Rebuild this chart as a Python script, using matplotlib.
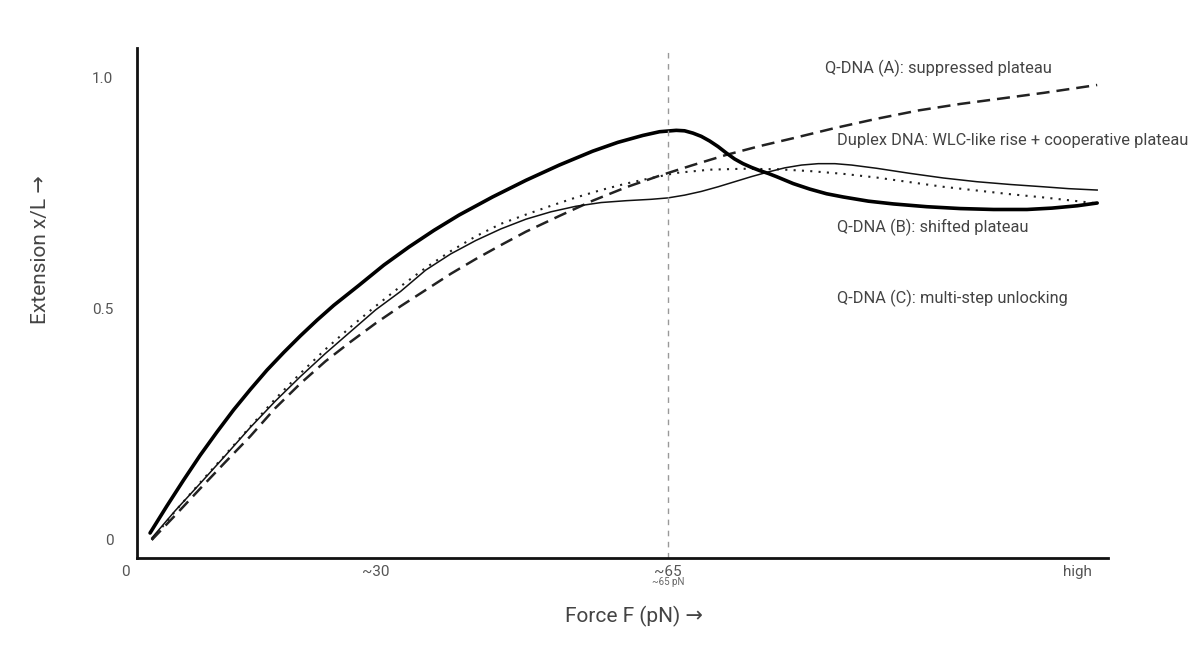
import matplotlib
matplotlib.use("Agg")
import matplotlib.pyplot as plt

plt.rcParams['font.family'] = ['Roboto', 'DejaVu Sans']

# Force axis (pN, arbitrary scale) and extension x/L
# thick solid : duplex DNA
F_duplex = [3, 5, 7, 9, 11, 13, 15, 17, 19, 21, 23, 25, 28, 31, 34, 37, 40, 44, 48, 52,
            56, 59, 62, 64, 66, 67, 68, 69, 70, 71, 72, 73, 74, 75, 76, 77, 78, 80, 82,
            84, 86, 89, 92, 96, 100, 104, 108, 111, 114, 116.4]
x_duplex = [0.015, 0.073, 0.129, 0.183, 0.233, 0.281, 0.325, 0.367, 0.405, 0.441, 0.475,
            0.507, 0.550, 0.594, 0.633, 0.669, 0.702, 0.741, 0.777, 0.810, 0.840, 0.859,
            0.874, 0.882, 0.885, 0.884, 0.879, 0.872, 0.862, 0.850, 0.836, 0.823, 0.813,
            0.805, 0.798, 0.792, 0.785, 0.770, 0.758, 0.748, 0.741, 0.732, 0.726, 0.720,
            0.716, 0.714, 0.714, 0.717, 0.722, 0.728]

# dashed : Q-DNA (A)
F_qa = [3.2, 6, 9, 12, 15, 18, 21, 24, 27, 30, 33, 36, 39, 42, 45, 48, 52, 56, 60, 64, 68,
        72, 76, 80, 85, 90, 95, 100, 105, 110, 116.4]
x_qa = [0.0, 0.053, 0.111, 0.168, 0.224, 0.285, 0.338, 0.386, 0.428, 0.468, 0.505, 0.540,
        0.575, 0.607, 0.637, 0.666, 0.700, 0.733, 0.762, 0.787, 0.810, 0.832, 0.851, 0.868,
        0.890, 0.910, 0.928, 0.942, 0.954, 0.966, 0.983]

# thin solid : Q-DNA (B)
F_qb = [3.2, 6, 9, 12, 15, 18, 21, 24, 27, 30, 33, 36, 39, 42, 45, 48, 51, 54, 57, 60, 63,
        65, 67, 69, 71, 73, 75, 77, 79, 81, 83, 85, 87, 90, 94, 98, 102, 106, 110, 113,
        116.4]
x_qb = [0.004, 0.063, 0.122, 0.182, 0.243, 0.300, 0.353, 0.403, 0.450, 0.497, 0.537, 0.583,
        0.618, 0.647, 0.672, 0.693, 0.709, 0.721, 0.729, 0.733, 0.736, 0.739, 0.745, 0.753,
        0.763, 0.774, 0.785, 0.795, 0.804, 0.810, 0.813, 0.813, 0.810, 0.803, 0.792, 0.782,
        0.774, 0.768, 0.763, 0.759, 0.756]

# dotted : Q-DNA (C)
F_qc = [3.2, 6, 9, 12, 15, 18, 21, 24, 27, 30, 33, 36, 39, 42, 45, 48, 51, 54, 57, 60, 63,
        66, 70, 74, 78, 82, 86, 90, 94, 98, 102, 106, 110, 113, 116]
x_qc = [0.0, 0.062, 0.124, 0.184, 0.245, 0.305, 0.360, 0.412, 0.460, 0.505, 0.548, 0.588,
        0.624, 0.656, 0.683, 0.703, 0.722, 0.740, 0.756, 0.770, 0.782, 0.793, 0.800, 0.802,
        0.801, 0.797, 0.791, 0.783, 0.773, 0.763, 0.755, 0.747, 0.740, 0.734, 0.728]

xtick_pos = [0, 30, 65, 114]
xtick_lab = ["0", "~30", "~65", "high"]
ytick_pos = [0, 0.5, 1.0]
ytick_lab = ["0", "0.5", "1.0"]

notes = ["Q-DNA (A): suppressed plateau",
         "Duplex DNA: WLC-like rise + cooperative plateau",
         "Q-DNA (B): shifted plateau",
         "Q-DNA (C): multi-step unlocking"]
notes_x = [83.8, 85.2, 85.2, 85.2]
notes_y = [1.019, 0.864, 0.676, 0.523]

fig = plt.figure(figsize=(11.94, 6.57), dpi=100)
ax = fig.add_axes([0.1047, 0.1507, 0.8233, 0.7763])

ax.plot(F_qa, x_qa, color='#222222', lw=1.8, dashes=(5.2, 2.8))
ax.plot(F_qc, x_qc, color='#222222', lw=1.5, ls=(0, (1, 3)))
ax.plot(F_qb, x_qb, color='#111111', lw=1.1, solid_joinstyle='round')
ax.plot(F_duplex, x_duplex, color='#000000', lw=2.6, solid_joinstyle='round',
        solid_capstyle='round')

ax.axvline(65, color='#999999', lw=1, ls=(0, (4, 4)))
ax.text(65, -0.091, "~65 pN", fontsize=7, color='#666666', ha='center', va='center')

for t, tx, ty in zip(notes, notes_x, notes_y):
    ax.text(tx, ty, t, fontsize=11.8, color='#444444', ha='left', va='center', clip_on=False)

ax.set_xlim(0, 117.7)
ax.set_ylim(-0.039, 1.063)
ax.spines['top'].set_visible(False)
ax.spines['right'].set_visible(False)
ax.spines['left'].set_position(('data', 1.44))
ax.spines['bottom'].set_bounds(1.44, 117.7)
for s in ['left', 'bottom']:
    ax.spines[s].set_linewidth(2)
    ax.spines[s].set_color('#111111')

ax.set_xticks(xtick_pos)
ax.set_xticklabels(xtick_lab)
ax.set_yticks(ytick_pos)
ax.set_yticklabels(ytick_lab)
ax.tick_params(axis='x', length=0, pad=5, labelsize=11, labelcolor='#555555')
ax.tick_params(axis='y', length=0, pad=17, labelsize=11, labelcolor='#555555')

ax.set_xlabel("Force F (pN) →", fontsize=15, color='#444444')
ax.xaxis.set_label_coords(0.518, -0.094)
ax.set_ylabel("Extension x/L →", fontsize=15, color='#444444')
ax.yaxis.set_label_coords(-0.076, 0.604)

fig.savefig("out.png", dpi=100, facecolor='white')
